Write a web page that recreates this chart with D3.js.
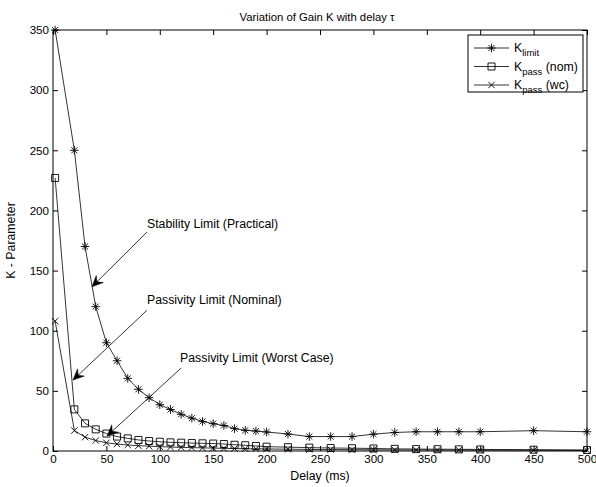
<!doctype html>
<html>
<head>
<script src="https://cdn.jsdelivr.net/npm/d3@7"></script>
<style>
  body { margin: 0; background: #fff; }
  svg { font-family: "Liberation Sans", Arial, sans-serif; }
  text { fill: #000; }
</style>
</head>
<body>
<svg width="596" height="487"></svg>
<script>
// delays (ms)
var delays = [2, 20, 30, 40, 50, 60, 70, 80, 90, 100, 110, 120, 130, 140, 150, 160, 170, 180, 190, 200,
              220, 240, 260, 280, 300, 320, 340, 360, 380, 400, 450, 500];
var kLimit = [350, 250, 170, 120, 90, 75, 60.4, 51.3, 44.3, 38.5, 34.5, 30.5, 27.3, 24.6, 22.7, 21.2, 18.6, 17.2, 16.6, 15.8,
              14.1, 12, 12, 12, 14, 15.4, 16, 16, 16, 16, 16.9, 16];
var kPassNom = [227, 34.6, 23, 18, 14.5, 12, 10.5, 9.2, 8.3, 7.7, 7.2, 6.9, 6.6, 6.4, 6.2, 5.8, 5.2, 4.8, 4.2, 3.6,
                3.2, 2.8, 2.5, 2.3, 2.1, 1.8, 1.6, 1.5, 1.4, 1.3, 1.1, 0.8];
var kPassWc = [108, 17, 11.5, 8.7, 6.8, 5.8, 5, 4.4, 4, 3.6, 3.3, 3, 2.8, 2.6, 2.4, 2.2, 2, 1.9, 1.8, 1.7,
               1.5, 1.3, 1.2, 1.1, 1, 0.9, 0.9, 0.8, 0.8, 0.7, 0.6, 0.5];
var xTicks = [0, 50, 100, 150, 200, 250, 300, 350, 400, 450, 500];
var yTicks = [0, 50, 100, 150, 200, 250, 300, 350];

// annotations: text anchor, arrow tail, arrow tip (data units)
var notes = [
  {label: "Stability Limit (Practical)", tx: 88, ty: 188.7, x1: 88, y1: 182, x2: 36.5, y2: 136.5},
  {label: "Passivity Limit (Nominal)", tx: 88, ty: 125.5, x1: 88, y1: 117, x2: 18.7, y2: 59},
  {label: "Passivity Limit (Worst Case)", tx: 119, ty: 77.3, x1: 120, y1: 69, x2: 50.6, y2: 12.5}
];

var L = 53, R = 587, T = 30, B = 451;
var fs = 12.3;
var xScale = d3.scaleLinear().domain([0, 500]).range([L, R]);
var yScale = d3.scaleLinear().domain([0, 350]).range([B, T]);
var svg = d3.select("svg");

// axes with inward ticks, box style
svg.append("g").attr("transform", "translate(0," + B + ")")
   .call(d3.axisBottom(xScale).tickValues(xTicks).tickSize(-5).tickPadding(4).tickFormat(d3.format("d")));
svg.append("g").attr("transform", "translate(0," + T + ")")
   .call(d3.axisTop(xScale).tickValues(xTicks).tickSize(-5).tickFormat(""));
svg.append("g").attr("transform", "translate(" + L + ",0)")
   .call(d3.axisLeft(yScale).tickValues(yTicks).tickSize(-5).tickPadding(4).tickFormat(d3.format("d")));
svg.append("g").attr("transform", "translate(" + R + ",0)")
   .call(d3.axisRight(yScale).tickValues(yTicks).tickSize(-5).tickFormat(""));
svg.selectAll(".tick text").attr("font-size", 11.6).attr("font-family", "Liberation Sans, Arial, sans-serif");
svg.selectAll(".domain").remove();
svg.selectAll(".tick line").attr("stroke", "#000");
svg.append("rect").attr("x", L).attr("y", T).attr("width", R - L).attr("height", B - T)
   .attr("fill", "none").attr("stroke", "#000").attr("stroke-width", 1);

// markers
function star(s) { var d = s * 0.7; return "M" + (-s) + ",0L" + s + ",0M0," + (-s) + "L0," + s +
  "M" + (-d) + "," + (-d) + "L" + d + "," + d + "M" + (-d) + "," + d + "L" + d + "," + (-d); }
function square(s) { return "M" + (-s) + "," + (-s) + "H" + s + "V" + s + "H" + (-s) + "Z"; }
function cross(s) { return "M" + (-s) + "," + (-s) + "L" + s + "," + s + "M" + (-s) + "," + s + "L" + s + "," + (-s); }

var series = [
  {vals: kLimit, mark: star(4.3), sub: "limit", tail: ""},
  {vals: kPassNom, mark: square(3.5), sub: "pass", tail: " (nom)"},
  {vals: kPassWc, mark: cross(3.2), sub: "pass", tail: " (wc)"}
];

var line = d3.line().x(function(d) { return xScale(d[0]); }).y(function(d) { return yScale(d[1]); });

series.forEach(function(s) {
  var pts = delays.map(function(x, i) { return [x, s.vals[i]]; });
  svg.append("path").attr("d", line(pts)).attr("fill", "none").attr("stroke", "#000").attr("stroke-width", 0.8);
  svg.selectAll(null).data(pts).enter().append("path")
     .attr("transform", function(d) { return "translate(" + xScale(d[0]) + "," + yScale(d[1]) + ")"; })
     .attr("d", s.mark).attr("fill", "none").attr("stroke", "#000").attr("stroke-width", 0.9);
});

// annotations
notes.forEach(function(n) {
  var ax = xScale(n.x1), ay = yScale(n.y1), bx = xScale(n.x2), by = yScale(n.y2);
  var ang = Math.atan2(by - ay, bx - ax);
  var len = 11, w = 5, back = 7;
  svg.append("line").attr("x1", ax).attr("y1", ay).attr("x2", bx).attr("y2", by)
     .attr("stroke", "#000").attr("stroke-width", 0.8);
  var c = Math.cos(ang), si = Math.sin(ang);
  function p(u, v) { return [bx + u * c - v * si, by + u * si + v * c]; }
  var head = [p(0, 0), p(-len, -w), p(-back, 0), p(-len, w)];
  svg.append("path").attr("d", "M" + head.map(function(q) { return q.join(","); }).join("L") + "Z")
     .attr("fill", "#000").attr("stroke", "#000").attr("stroke-width", 0.5);
  svg.append("text").attr("x", xScale(n.tx)).attr("y", yScale(n.ty)).attr("dy", "0.35em")
     .attr("font-size", fs).text(n.label);
});

// title and labels
svg.append("text").attr("x", (L + R) / 2 - 3).attr("y", 21).attr("text-anchor", "middle")
   .attr("font-size", 11.3).text("Variation of Gain K with delay \u03C4");
svg.append("text").attr("x", (L + R) / 2).attr("y", 480).attr("text-anchor", "middle")
   .attr("font-size", fs).text("Delay (ms)");
svg.append("text").attr("transform", "translate(15," + ((T + B) / 2) + ") rotate(-90)")
   .attr("text-anchor", "middle").attr("font-size", fs).text("K - Parameter");

// legend
var lg = svg.append("g").attr("transform", "translate(468,35)");
lg.append("rect").attr("width", 115).attr("height", 57).attr("fill", "#fff").attr("stroke", "#000").attr("stroke-width", 1);
series.forEach(function(s, i) {
  var y = 13 + i * 18.5;
  lg.append("line").attr("x1", 6).attr("x2", 41).attr("y1", y).attr("y2", y).attr("stroke", "#000").attr("stroke-width", 0.8);
  lg.append("path").attr("transform", "translate(23.5," + y + ")").attr("d", s.mark)
    .attr("fill", "none").attr("stroke", "#000").attr("stroke-width", 0.9);
  var t = lg.append("text").attr("x", 46).attr("y", y + 4).attr("font-size", fs);
  t.append("tspan").text("K");
  t.append("tspan").attr("dy", 4).attr("font-size", 9.5).text(s.sub);
  t.append("tspan").attr("dy", -4).text(s.tail);
});
</script>
</body>
</html>
